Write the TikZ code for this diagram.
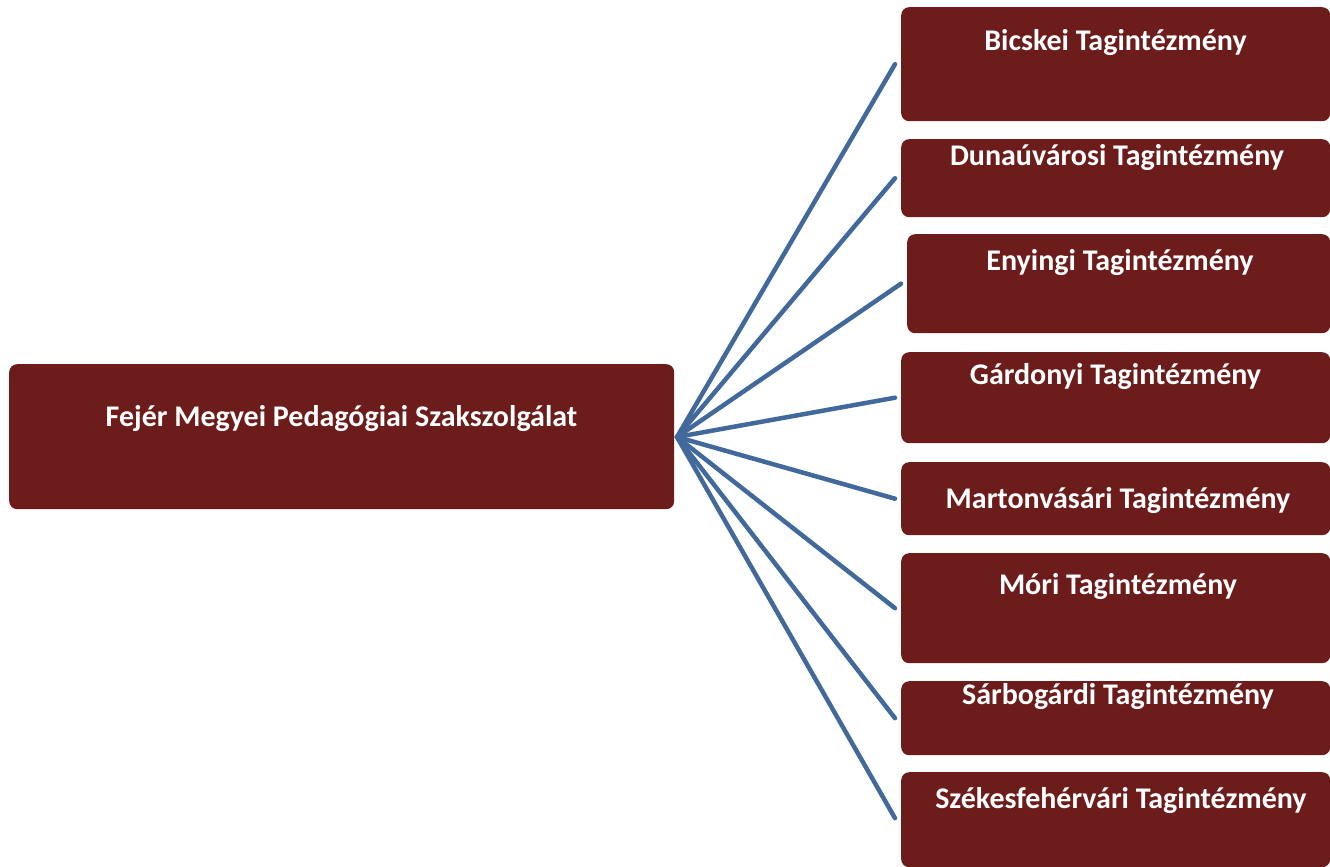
\documentclass[tikz,border=0pt]{standalone}
\usepackage{fontspec}
\setmainfont{Carlito}
\usetikzlibrary{calc}
\definecolor{boxred}{RGB}{108,28,26}
\definecolor{linkblue}{RGB}{65,105,155}
\tikzset{
  orgbox/.style={fill=boxred, draw=none, rounded corners=8pt, anchor=north west, inner sep=0pt},
  lbl/.style={text=white, font=\fontsize{30}{36}\selectfont\bfseries, anchor=base, inner sep=0pt},
  link/.style={draw=linkblue, line width=4.5pt, line cap=round}
}
\begin{document}
\begin{tikzpicture}[x=1pt,y=-1pt]
\useasboundingbox (0,0) rectangle (1330,867);
\clip (0,0) rectangle (1330,867);
% main box
\node[orgbox, minimum width=665pt, minimum height=145pt] (m) at (9,364) {};
\node[lbl] (mt) at (341.5,426) {Fejér Megyei Pedagógiai Szakszolgálat};
% right boxes
\node[orgbox, minimum width=429pt, minimum height=114pt] (b1) at (901,7) {};
\node[orgbox, minimum width=429pt, minimum height=78pt] (b2) at (901,139) {};
\node[orgbox, minimum width=423pt, minimum height=99pt] (b3) at (907,234) {};
\node[orgbox, minimum width=429pt, minimum height=91pt] (b4) at (901,352) {};
\node[orgbox, minimum width=429pt, minimum height=73pt] (b5) at (901,462) {};
\node[orgbox, minimum width=429pt, minimum height=110pt] (b6) at (901,553) {};
\node[orgbox, minimum width=429pt, minimum height=74pt] (b7) at (901,681) {};
\node[orgbox, minimum width=429pt, minimum height=95pt] (b8) at (901,772) {};
% labels
\node[lbl] (t1) at (1115.5,51) {Bicskei Tagintézmény};
\node[lbl] (t2) at (1117,165) {Dunaúvárosi Tagintézmény};
\node[lbl] (t3) at (1120,270) {Enyingi Tagintézmény};
\node[lbl] (t4) at (1115.5,384) {Gárdonyi Tagintézmény};
\node[lbl] (t5) at (1118,508) {Martonvásári Tagintézmény};
\node[lbl] (t6) at (1118,594) {Móri Tagintézmény};
\node[lbl] (t7) at (1118,704) {Sárbogárdi Tagintézmény};
\node[lbl] (t8) at (1121,808) {Székesfehérvári Tagintézmény};
% connectors
\coordinate (hub) at (677,437);
\foreach \b in {b1,b2,b3,b4,b5,b6,b7} {
  \draw[link] (hub) -- ([xshift=-6pt]\b.west);
}
\draw[link] (hub) -- ([xshift=-6pt]$(b8.north west)!0.484!(b8.south west)$);
\end{tikzpicture}
\end{document}
